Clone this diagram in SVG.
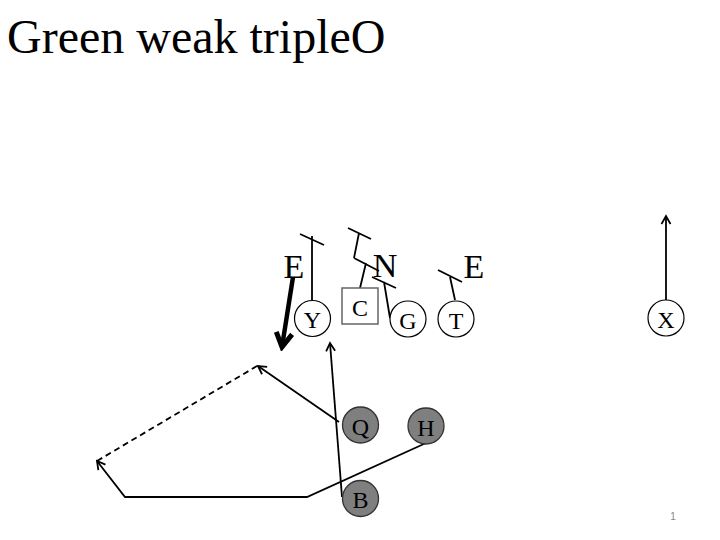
<svg xmlns="http://www.w3.org/2000/svg" width="720" height="540" viewBox="0 0 720 540">
<style>
.lbl{font-family:"Liberation Serif","Times New Roman",serif;fill:#000;text-anchor:middle}
.sm{font-size:24px}
.big{font-size:34px}
.wc{fill:#fff;stroke:#000;stroke-width:1.2}
.gc{fill:#7f7f7f;stroke:#333;stroke-width:1.3}
.ln{fill:none;stroke:#000;stroke-width:1.8;stroke-linejoin:miter}
.dash{stroke-dasharray:6,4}
.thick{fill:none;stroke:#000;stroke-width:4.5}
</style>
<defs>
<marker id="ah" markerUnits="userSpaceOnUse" markerWidth="12" markerHeight="12" viewBox="0 0 12 12" refX="10" refY="6" orient="auto">
<path d="M2,1.5 L10,6 L2,10.5" fill="none" stroke="#000" stroke-width="1.8"/>
</marker>
<marker id="ahT" markerUnits="userSpaceOnUse" markerWidth="22" markerHeight="22" viewBox="0 0 22 22" refX="18" refY="11" orient="auto">
<path d="M4,3 L18,11 L4,19" fill="none" stroke="#000" stroke-width="5"/>
</marker>
</defs>
<rect width="720" height="540" fill="#fff"/>
<text x="7" y="53" style="font-family:'Liberation Serif','Times New Roman',serif;font-size:48px">Green weak tripleO</text>
<g id="connectors">
<path class="ln" d="M312,300 L312,236 M300,234 L324,245"/>
<path class="ln" d="M360,288 L366,263 M354,258 L379,271 M354,258 L359,233 M348,228 L371,239"/>
<path class="ln" d="M390,318 L384,282 M372,277 L396,288"/>
<path class="ln" d="M455,300 L450,277 M438,270 L462,282"/>
<line class="ln" x1="666" y1="300" x2="666" y2="216" marker-end="url(#ah)"/>
<line class="thick" x1="293" y1="277" x2="282" y2="347" marker-end="url(#ahT)"/>
<line class="ln" x1="342" y1="497" x2="330" y2="343" marker-end="url(#ah)"/>
<line class="ln" x1="339" y1="422" x2="258" y2="366" marker-end="url(#ah)"/>
<line class="ln dash" x1="257" y1="366" x2="97" y2="461"/>
<polyline class="ln" points="426,443 307,497 125,497 97,461" marker-end="url(#ah)"/>
</g>
<g id="label-E1"><text class="lbl big" x="294" y="278">E</text></g>
<g id="label-N"><text class="lbl big" x="385" y="277">N</text></g>
<g id="label-E2"><text class="lbl big" x="474" y="278">E</text></g>
<g id="node-Y"><circle class="wc" cx="312.5" cy="318.5" r="18"/><text class="lbl sm" x="312.5" y="328">Y</text></g>
<g id="node-C"><rect x="342" y="288" width="36" height="36" fill="#fff" stroke="#666" stroke-width="1.5"/><text class="lbl sm" x="360" y="315.5">C</text></g>
<g id="node-G"><circle class="wc" cx="408" cy="319" r="18"/><text class="lbl sm" x="408" y="328.5">G</text></g>
<g id="node-T"><circle class="wc" cx="456" cy="319" r="18"/><text class="lbl sm" x="456" y="328.5">T</text></g>
<g id="node-X"><circle class="wc" cx="666" cy="318" r="18"/><text class="lbl sm" x="666" y="327.5">X</text></g>
<g id="node-Q"><circle class="gc" cx="360.5" cy="425" r="18"/><text class="lbl sm" x="360.5" y="435">Q</text></g>
<g id="node-H"><circle class="gc" cx="426" cy="426" r="18"/><text class="lbl sm" x="426" y="435.5">H</text></g>
<g id="node-B"><circle class="gc" cx="360.5" cy="498.5" r="18"/><text class="lbl sm" x="360.5" y="508">B</text></g>
<text x="673" y="520" style="font-family:'Liberation Sans',Arial,sans-serif;font-size:10px;fill:#888;text-anchor:middle">1</text>
</svg>
